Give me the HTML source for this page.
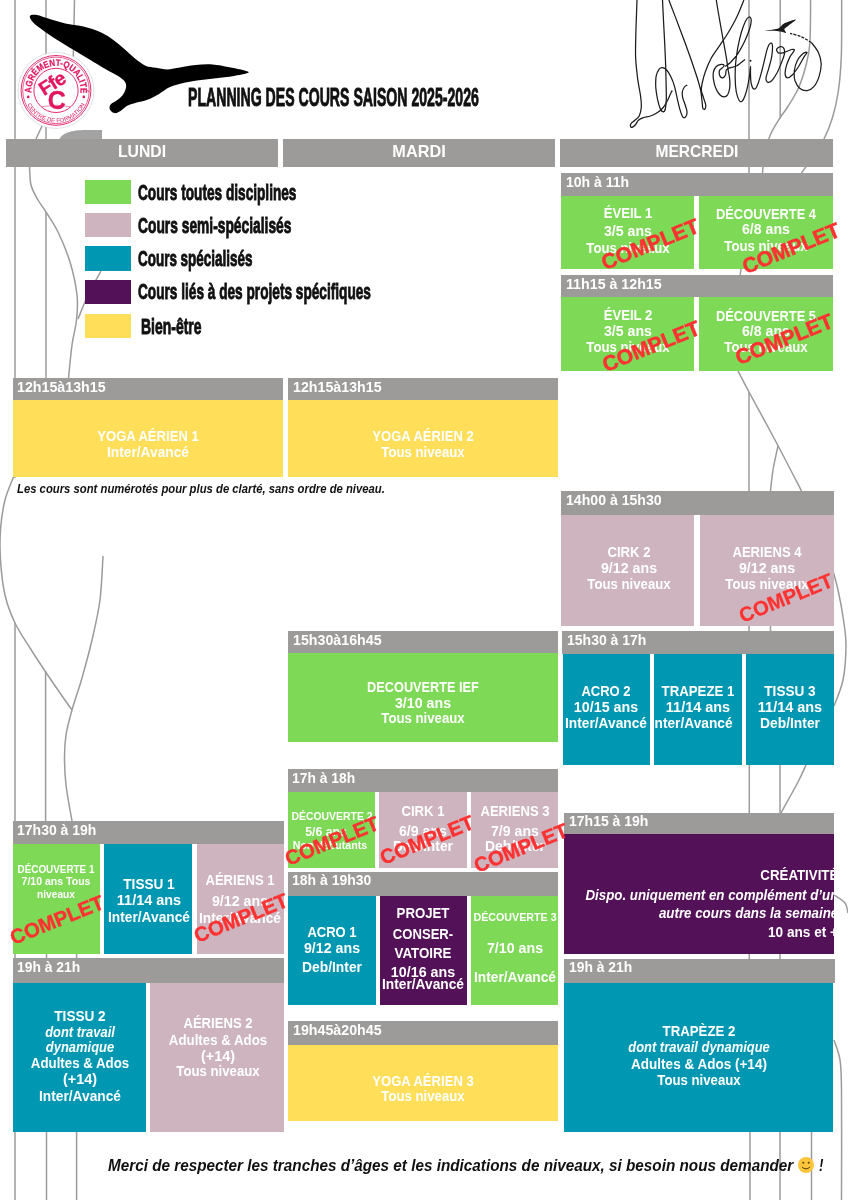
<!DOCTYPE html>
<html lang="fr"><head><meta charset="utf-8"><title>Planning des cours saison 2025-2026</title>
<style>
html,body{margin:0;padding:0;background:#fff;}
#p{position:relative;width:848px;height:1200px;overflow:hidden;background:#fff;}
.r{position:absolute;}
.t{position:absolute;white-space:nowrap;line-height:1;}
.c{position:absolute;white-space:nowrap;line-height:1;font-family:'Liberation Sans',sans-serif;font-weight:700;color:#ff3131;-webkit-text-stroke:0.5px #ff3131;}
svg{position:absolute;left:0;top:0;}
.clip{position:absolute;overflow:hidden;}
</style></head>
<body><div id="p">
<svg width="848" height="1200" viewBox="0 0 848 1200" fill="none"><title>La Volière</title>
<path d="M15.0 0.0L15.0 478.0" stroke="#9b9b9b" stroke-width="1.50" fill="none"/>
<path d="M15.0 1132.0L15.0 1200.0" stroke="#9b9b9b" stroke-width="1.50" fill="none"/>
<path d="M15.0 954.0L15.0 959.0" stroke="#9b9b9b" stroke-width="1.50" fill="none"/>
<path d="M46.0 0.0L46.0 165.0" stroke="#9b9b9b" stroke-width="1.50" fill="none"/>
<path d="M74.5 0.0L73.0 70.0" stroke="#9b9b9b" stroke-width="1.50" fill="none"/>
<path d="M29.5 166.0C29.8 169.2 29.6 179.3 31.0 185.0C32.4 190.7 35.5 195.5 38.0 200.0C40.5 204.5 42.7 206.7 46.0 212.0C49.3 217.3 54.0 223.7 58.0 232.0C62.0 240.3 66.8 251.5 70.0 262.0C73.2 272.5 75.9 285.3 77.0 295.0C78.1 304.7 77.3 311.7 76.5 320.0C75.7 328.3 73.3 335.3 72.0 345.0C70.7 354.7 69.1 372.5 68.5 378.0" stroke="#9b9b9b" stroke-width="1.50" fill="none"/>
<path d="M46.0 212.0L46.0 378.0" stroke="#9b9b9b" stroke-width="1.50" fill="none"/>
<path d="M101.0 271.0C98.8 275.0 91.8 287.0 88.0 295.0C84.2 303.0 79.7 315.0 78.0 319.0" stroke="#9b9b9b" stroke-width="1.50" fill="none"/>
<path d="M42.0 126.0L36.0 139.0" stroke="#9b9b9b" stroke-width="1.50" fill="none"/>
<path d="M13.5 477.0C12.1 480.8 7.2 491.2 5.0 500.0C2.8 508.8 1.2 520.0 0.5 530.0C-0.2 540.0 -0.2 549.2 0.5 560.0C1.2 570.8 2.6 584.5 5.0 595.0C7.4 605.5 10.8 614.2 15.0 623.0C19.2 631.8 25.0 640.0 30.0 648.0C35.0 656.0 40.0 663.5 45.0 671.0C50.0 678.5 55.5 686.5 60.0 693.0C64.5 699.5 70.0 707.2 72.0 710.0" stroke="#9b9b9b" stroke-width="1.50" fill="none"/>
<path d="M15.0 623.0L15.0 821.0" stroke="#9b9b9b" stroke-width="1.50" fill="none"/>
<path d="M45.6 671.0L45.6 821.0" stroke="#9b9b9b" stroke-width="1.50" fill="none"/>
<path d="M103.0 556.0C102.5 563.3 101.8 586.0 100.0 600.0C98.2 614.0 95.0 627.0 92.0 640.0C89.0 653.0 85.3 666.3 82.0 678.0C78.7 689.7 74.7 700.5 72.0 710.0C69.3 719.5 67.2 727.2 66.0 735.0C64.8 742.8 64.5 748.7 64.5 757.0C64.5 765.3 64.8 774.3 66.0 785.0C67.2 795.7 71.0 815.0 72.0 821.0" stroke="#9b9b9b" stroke-width="1.50" fill="none"/>
<path d="M46.5 1132.0L46.5 1200.0" stroke="#9b9b9b" stroke-width="1.50" fill="none"/>
<path d="M76.6 1132.0L76.6 1200.0" stroke="#9b9b9b" stroke-width="1.50" fill="none"/>
<path d="M46.5 954.0L46.5 959.0" stroke="#9b9b9b" stroke-width="1.50" fill="none"/>
<path d="M76.6 954.0L76.6 959.0" stroke="#9b9b9b" stroke-width="1.50" fill="none"/>
<path d="M749.0 0.0L749.0 173.0" stroke="#9b9b9b" stroke-width="1.50" fill="none"/>
<path d="M780.2 0.0L780.2 117.5" stroke="#9b9b9b" stroke-width="1.50" fill="none"/>
<path d="M810.6 0.0C810.5 7.1 810.6 31.9 809.9 42.5C809.2 53.1 808.3 56.2 806.4 63.7C804.5 71.2 801.8 80.4 798.6 87.7C795.4 95.0 790.4 102.5 787.3 107.5C784.2 112.5 783.0 112.9 780.2 117.5C777.4 122.1 772.9 128.8 770.3 135.0C767.7 141.2 765.8 148.7 764.5 155.0C763.2 161.3 762.8 170.0 762.5 173.0" stroke="#9b9b9b" stroke-width="1.50" fill="none"/>
<path d="M841.7 0.0C841.6 9.4 841.9 41.3 841.3 56.6C840.7 71.9 839.7 81.8 838.2 92.0C836.7 102.2 834.9 109.7 832.5 117.5C830.1 125.3 827.4 132.2 824.0 139.0C820.6 145.8 815.8 152.3 812.0 158.0C808.2 163.7 803.2 170.5 801.5 173.0" stroke="#9b9b9b" stroke-width="1.50" fill="none"/>
<path d="M741.0 269.0L740.0 276.0" stroke="#9b9b9b" stroke-width="1.50" fill="none"/>
<path d="M738.0 371.0C739.8 374.5 742.8 380.5 749.0 392.0C755.2 403.5 766.2 423.5 775.0 440.0C783.8 456.5 797.1 482.5 801.5 491.0" stroke="#9b9b9b" stroke-width="1.50" fill="none"/>
<path d="M749.0 392.0L749.0 491.0" stroke="#9b9b9b" stroke-width="1.50" fill="none"/>
<path d="M778.0 446.0C777.2 450.0 774.2 462.5 773.0 470.0C771.8 477.5 770.9 487.5 770.5 491.0" stroke="#9b9b9b" stroke-width="1.50" fill="none"/>
<path d="M749.0 626.0L749.0 632.0" stroke="#9b9b9b" stroke-width="1.50" fill="none"/>
<path d="M770.5 626.0L770.5 632.0" stroke="#9b9b9b" stroke-width="1.50" fill="none"/>
<path d="M830.5 562.0C831.8 566.7 835.8 580.3 838.0 590.0C840.2 599.7 842.2 610.7 843.5 620.0C844.8 629.3 846.1 636.0 846.0 646.0C845.9 656.0 845.0 670.0 843.0 680.0C841.0 690.0 835.5 701.7 834.0 706.0" stroke="#9b9b9b" stroke-width="1.50" fill="none"/>
<path d="M749.3 765.0L749.3 813.0" stroke="#9b9b9b" stroke-width="1.50" fill="none"/>
<path d="M780.0 765.0L780.0 813.0" stroke="#9b9b9b" stroke-width="1.50" fill="none"/>
<path d="M806.0 765.0C804.7 767.8 802.2 774.0 798.0 782.0C793.8 790.0 783.8 807.8 781.0 813.0" stroke="#9b9b9b" stroke-width="1.50" fill="none"/>
<path d="M749.3 954.0L749.3 959.0" stroke="#9b9b9b" stroke-width="1.50" fill="none"/>
<path d="M780.0 954.0L780.0 959.0" stroke="#9b9b9b" stroke-width="1.50" fill="none"/>
<path d="M834.0 895.0C835.8 896.3 842.7 900.0 845.0 903.0C847.3 906.0 847.5 911.3 848.0 913.0" stroke="#9b9b9b" stroke-width="1.50" fill="none"/>
<path d="M834.0 1040.0C835.0 1043.3 838.8 1051.7 840.0 1060.0C841.2 1068.3 841.2 1066.7 841.5 1090.0C841.8 1113.3 841.5 1181.7 841.5 1200.0" stroke="#9b9b9b" stroke-width="1.50" fill="none"/>
<path d="M750.0 1132.0L750.0 1200.0" stroke="#9b9b9b" stroke-width="1.50" fill="none"/>
<path d="M780.0 1132.0L780.0 1200.0" stroke="#9b9b9b" stroke-width="1.50" fill="none"/>
<path d="M811.5 1132.0L811.5 1200.0" stroke="#9b9b9b" stroke-width="1.50" fill="none"/>
<path d="M59 141 C60 133 72 130 86 130 L102 130 L102 141 Z" fill="#a3a3a3" stroke="none"/>
<path d="M637.0 0.0C636.9 4.7 636.3 18.9 636.0 28.3C635.8 37.7 635.3 48.1 635.6 56.6C635.9 65.1 636.9 72.6 637.7 79.2C638.6 85.8 640.0 91.5 640.6 96.2C641.2 100.9 641.5 104.2 641.3 107.5C641.0 110.8 640.2 113.9 639.2 116.0C638.1 118.2 636.2 119.1 634.9 120.3C633.6 121.5 632.1 122.2 631.4 123.1C630.6 124.1 630.3 125.2 630.4 125.9C630.5 126.6 631.2 127.6 632.1 127.4C632.9 127.1 634.6 125.7 635.6 124.5C636.7 123.3 637.1 121.4 638.4 120.3C639.7 119.1 641.4 118.4 643.4 117.7C645.4 117.0 648.1 116.9 650.5 116.0C652.8 115.2 655.4 113.9 657.5 112.5C659.7 111.1 661.6 109.5 663.2 107.5C664.9 105.5 666.2 102.9 667.5 100.5C668.7 98.0 670.2 94.3 671.0 92.7C671.8 91.0 672.2 90.9 672.4 90.6" stroke="#1c1c1c" stroke-width="1.25" fill="none"/>
<path d="M662.5 0.0C662.7 4.7 663.4 18.9 663.9 28.3C664.4 37.7 665.0 48.1 665.3 56.6C665.7 65.1 665.9 72.2 666.0 79.2C666.2 86.3 666.4 94.1 666.3 99.1C666.2 104.0 665.8 106.8 665.3 109.0C664.8 111.1 664.0 111.8 663.2 111.8C662.4 111.8 661.3 111.1 660.4 109.0C659.4 106.8 658.3 102.6 657.5 99.1C656.8 95.5 656.1 91.5 655.8 87.7C655.6 84.0 655.6 79.5 656.1 76.4C656.6 73.3 657.9 70.8 659.0 69.3C660.0 67.9 661.2 67.5 662.5 67.6C663.8 67.8 665.3 68.5 666.7 70.0C668.2 71.6 669.7 74.4 671.0 77.1C672.3 79.8 673.5 82.7 674.5 86.3C675.6 90.0 676.4 95.0 677.4 99.1C678.3 103.1 679.2 107.4 680.2 110.4C681.1 113.4 682.1 116.1 683.0 117.2C684.0 118.2 685.2 117.6 685.8 116.7C686.5 115.8 687.1 113.8 687.0 111.8C686.9 109.8 685.8 107.1 685.1 104.7C684.4 102.4 683.2 99.8 682.7 97.6C682.3 95.5 682.0 93.7 682.3 92.0C682.6 90.2 683.6 88.2 684.4 87.0C685.3 85.8 686.8 85.3 687.3 84.9" stroke="#1c1c1c" stroke-width="1.25" fill="none"/>
<path d="M668.9 0.0C670.0 3.1 673.3 11.6 675.9 18.4C678.5 25.2 681.8 34.0 684.4 41.0C687.0 48.1 689.4 54.7 691.5 60.8C693.6 67.0 695.6 72.9 697.2 77.8C698.7 82.8 699.9 86.6 700.7 90.6C701.5 94.6 701.8 98.9 702.1 101.9C702.5 104.8 702.4 107.1 702.8 108.2C703.3 109.4 704.5 109.5 704.9 109.0C705.4 108.4 705.9 106.6 705.7 104.7C705.4 102.8 704.2 100.0 703.5 97.6C702.8 95.3 701.6 92.9 701.4 90.6C701.2 88.2 701.4 86.8 702.1 83.5C702.8 80.2 704.1 75.0 705.7 70.8C707.2 66.5 709.0 62.3 711.3 58.0C713.7 53.8 717.0 49.5 719.8 45.3C722.6 41.0 725.5 37.3 728.3 32.5C731.1 27.8 734.2 22.4 736.8 17.0C739.4 11.6 742.7 2.8 743.9 0.0" stroke="#1c1c1c" stroke-width="1.25" fill="none"/>
<path d="M716.3 0.0C716.7 2.8 718.0 10.8 719.1 17.0C720.2 23.1 721.5 30.2 722.6 36.8C723.8 43.4 725.2 50.9 726.2 56.6C727.1 62.3 727.7 67.0 728.3 70.8C728.9 74.5 729.5 76.4 729.7 79.2C729.9 82.1 730.1 85.1 729.7 87.7C729.4 90.3 728.5 93.3 727.6 94.8C726.6 96.3 725.3 96.9 724.1 96.9C722.8 96.9 721.2 96.3 719.8 94.8C718.4 93.3 716.6 90.3 715.6 87.7C714.5 85.1 713.8 81.8 713.4 79.2C713.1 76.6 713.0 74.3 713.4 72.2C713.9 70.0 715.0 67.8 716.3 66.5C717.6 65.2 719.9 64.6 721.2 64.4C722.5 64.2 723.8 64.8 724.1 65.4C724.3 65.9 723.4 66.8 722.6 67.6C721.9 68.5 720.0 69.1 719.5 70.5C719.1 71.8 719.3 74.5 719.8 75.7C720.3 76.9 721.7 77.9 722.6 77.8C723.6 77.7 724.9 76.3 725.5 75.0C726.1 73.7 725.6 71.2 726.3 70.0C727.0 68.9 728.0 68.6 729.7 67.9C731.5 67.2 734.2 67.2 736.8 65.8C739.3 64.4 743.6 60.5 745.0 59.4" stroke="#1c1c1c" stroke-width="1.25" fill="none"/>
<path d="M725.0 66.5C725.9 65.8 728.5 64.4 730.7 62.3C732.8 60.1 735.4 57.3 737.7 53.8C740.1 50.2 742.8 45.3 744.8 41.0C746.8 36.8 748.7 31.8 749.8 28.3C750.8 24.8 751.3 21.7 751.2 19.8C751.1 17.9 750.0 16.7 749.1 17.0C748.1 17.2 746.8 18.6 745.5 21.2C744.2 23.8 742.6 28.1 741.3 32.5C740.0 37.0 738.7 42.9 737.7 48.1C736.8 53.3 736.0 58.5 735.6 63.7C735.2 68.9 735.1 74.5 735.2 79.2C735.3 84.0 735.7 88.4 736.3 92.0C737.0 95.5 738.2 98.9 739.2 100.5C740.1 102.0 741.0 101.9 742.0 101.2C742.9 100.5 743.9 98.7 744.8 96.2C745.8 93.7 746.8 90.1 747.6 86.3C748.5 82.5 749.3 76.9 749.8 73.6C750.2 70.3 750.4 66.5 750.5 66.5C750.6 66.5 750.4 70.8 750.5 73.6C750.6 76.4 750.6 80.9 751.2 83.5C751.8 86.1 752.9 88.9 754.0 89.1C755.1 89.4 756.4 87.5 757.5 84.9C758.7 82.3 759.9 77.8 761.1 73.6C762.3 69.3 763.6 63.7 764.6 59.4C765.7 55.2 766.5 50.8 767.5 48.1C768.4 45.4 769.5 43.6 770.3 43.2C771.1 42.7 772.2 43.0 772.4 45.3C772.6 47.5 772.3 52.8 771.7 56.6C771.1 60.4 769.8 64.4 768.9 67.9C767.9 71.5 766.3 75.5 766.0 77.8C765.8 80.2 766.5 81.6 767.5 82.1C768.4 82.5 770.0 82.3 771.7 80.7C773.3 79.0 775.7 75.2 777.4 72.2C779.0 69.1 780.4 65.3 781.6 62.3C782.8 59.2 784.1 56.1 784.4 53.8C784.8 51.4 784.4 49.3 783.7 48.1C783.0 46.9 781.4 46.5 780.2 46.7C779.0 46.9 776.9 48.5 776.6 49.5C776.4 50.6 777.5 52.6 778.8 53.1C780.1 53.5 782.3 52.9 784.4 52.4C786.6 51.8 789.9 49.9 791.5 49.5C793.2 49.2 794.6 49.1 794.3 50.2C794.1 51.4 791.4 54.1 790.1 56.6C788.8 59.1 787.4 62.3 786.6 65.1C785.7 67.9 785.0 71.5 785.1 73.6C785.3 75.7 786.1 77.6 787.3 77.8C788.4 78.1 790.3 76.9 792.2 75.0C794.1 73.1 796.6 69.6 798.6 66.5C800.6 63.4 802.8 59.0 804.2 56.6C805.7 54.2 807.3 52.8 807.1 52.4C806.8 51.9 804.5 52.4 802.8 53.8C801.2 55.2 798.6 58.0 797.2 60.8C795.8 63.7 794.7 67.4 794.3 70.8C794.0 74.1 794.1 77.7 795.0 80.7C796.0 83.6 798.0 86.8 800.0 88.4C802.0 90.1 804.7 90.9 807.1 90.6C809.4 90.2 812.1 88.7 814.1 86.3C816.2 84.0 817.9 80.2 819.1 76.4C820.3 72.6 821.3 67.7 821.2 63.7C821.1 59.7 820.0 55.9 818.4 52.4C816.7 48.8 812.5 44.1 811.3 42.5" stroke="#1c1c1c" stroke-width="1.25" fill="none"/>
<path d="M811.3 42.5C809.7 41.5 804.9 38.3 801.4 36.8C797.9 35.3 792.0 33.8 790.1 33.3" stroke="#1c1c1c" stroke-width="1.25" fill="none" stroke-dasharray="3 1.2"/>
<circle cx="750.5" cy="60.8" r="1.0" fill="#1c1c1c" stroke="none"/>
<path d="M764.6 30.8C764.4 30.6 770.8 29.9 773.1 29.4C775.5 29.0 776.9 29.3 778.8 28.3C780.7 27.3 781.6 24.8 784.4 23.3C787.3 21.9 795.0 19.2 795.8 19.5C796.5 19.9 790.6 23.9 788.7 25.5C786.8 27.1 784.9 27.8 784.4 29.0C784.0 30.2 786.6 32.4 786.1 32.8C785.7 33.3 783.5 32.2 781.6 31.8C779.7 31.5 777.4 31.0 774.5 30.8C771.7 30.7 764.9 31.1 764.6 30.8Z" fill="#1c1c1c" stroke="none"/>
<path d="M29.9 15.8C30.6 14.6 33.9 14.4 37.0 14.9C40.1 15.4 43.6 17.2 48.3 18.6C53.0 20.0 59.6 22.1 65.3 23.4C71.0 24.7 77.1 25.0 82.3 26.2C87.5 27.4 92.2 28.9 96.4 30.5C100.6 32.1 103.9 33.8 107.7 36.1C111.5 38.5 115.3 41.5 119.1 44.6C122.9 47.7 127.1 51.7 130.4 54.5C133.7 57.3 136.3 59.7 138.9 61.6C141.5 63.5 143.2 64.9 146.0 65.9C148.8 66.9 152.4 67.2 155.9 67.8C159.4 68.4 163.4 69.5 167.2 69.5C171.0 69.5 173.8 68.5 178.5 67.8C183.2 67.0 189.8 65.6 195.5 65.0C201.2 64.4 206.8 64.0 212.5 64.4C218.2 64.8 223.5 66.0 229.5 67.3C235.5 68.6 247.8 70.7 248.7 72.1C249.6 73.5 240.2 74.8 235.1 75.8C230.0 76.8 223.8 77.3 218.1 78.0C212.4 78.7 206.8 79.2 201.1 80.0C195.4 80.8 189.4 81.6 184.2 82.8C179.0 84.0 174.2 85.2 170.0 87.1C165.8 89.0 162.5 92.1 158.7 94.2C154.9 96.3 151.2 98.4 147.4 99.8C143.6 101.2 139.3 101.8 136.0 102.7C132.7 103.7 130.2 104.1 127.6 105.5C125.0 106.9 122.6 109.8 120.5 111.1C118.4 112.4 116.5 113.3 114.8 113.1C113.0 112.9 110.7 111.1 110.0 109.7C109.3 108.3 109.3 106.2 110.6 104.6C111.9 102.9 115.6 101.5 117.7 99.8C119.8 98.1 121.9 96.3 123.3 94.2C124.7 92.1 125.9 89.2 126.1 87.1C126.3 85.0 126.1 83.3 124.7 81.4C123.3 79.5 121.0 77.9 117.7 75.8C114.4 73.7 109.4 71.3 104.9 68.7C100.4 66.1 95.5 63.0 90.8 60.2C86.1 57.4 81.3 54.5 76.6 51.7C71.9 48.9 66.8 45.8 62.5 43.2C58.2 40.6 54.6 38.5 51.1 36.1C47.6 33.8 44.3 31.5 41.2 29.1C38.1 26.8 34.6 24.2 32.7 22.0C30.8 19.8 29.2 17.0 29.9 15.8Z" fill="#000" stroke="none"/>
<g>
<circle cx="56" cy="90.4" r="38" fill="#fff" stroke="#d6d6d6" stroke-width="0.7"/>
<circle cx="56" cy="90.4" r="34.9" fill="none" stroke="#e2155f" stroke-width="0.9"/>
<circle cx="56" cy="90.4" r="33.3" fill="none" stroke="#e2155f" stroke-width="0.7"/>
<circle cx="56" cy="90.4" r="22.1" fill="none" stroke="#e2155f" stroke-width="0.9"/>
<path id="arcT" d="M31.53 92.97 A24.6 24.6 0 1 1 80.47 92.97" fill="none" stroke="none"/>
<path id="arcB" d="M27.24 104.43 A32.0 32.0 0 0 0 84.76 104.43" fill="none" stroke="none"/>
<text font-family="'Liberation Sans',sans-serif" font-weight="700" font-size="9.3" fill="#e2155f" stroke="#e2155f" stroke-width="0.25"><textPath href="#arcT" startOffset="0" textLength="82.4" lengthAdjust="spacingAndGlyphs">AGRÉMENT-QUALITÉ</textPath></text>
<text font-family="'Liberation Sans',sans-serif" font-weight="400" font-size="5.7" fill="#e2155f" stroke="none"><textPath href="#arcB" startOffset="0" textLength="71.5" lengthAdjust="spacingAndGlyphs">CENTRE DE FORMATION</textPath></text>
<circle cx="28.2" cy="96.9" r="1.3" fill="#e2155f" stroke="none"/><circle cx="83.8" cy="96.9" r="1.3" fill="#e2155f" stroke="none"/>
<g font-family="'Liberation Sans',sans-serif" font-weight="700" fill="#e2155f" stroke="#e2155f" stroke-width="0.3">
<text transform="translate(53.6 83.8) rotate(-32)" x="-1" y="5.5" font-size="19.5" text-anchor="middle" letter-spacing="-0.6">Ffe</text>
<text x="56.8" y="109" font-size="25" text-anchor="middle">C</text>
</g>
<path d="M41.5 106.7 Q56 103.7 70.5 106.7" fill="none" stroke="#e2155f" stroke-width="0.5"/>
</g>
</svg>
<div class="t" style="left:188.00px;top:84.92px;font-size:24.90px;font-family:'Liberation Sans',sans-serif;font-weight:700;color:#111;transform:scaleX(0.5668);transform-origin:left center;-webkit-text-stroke:0.90px #111;">PLANNING DES COURS SAISON 2025-2026</div>
<div class="r" style="left:5.50px;top:139.00px;width:272.00px;height:27.80px;background:#9d9b9a;"></div>
<div class="t" style="left:141.50px;top:143.21px;font-size:17.00px;font-family:'Liberation Sans',sans-serif;font-weight:700;color:#fff;transform:translateX(-50%) scaleX(0.9286);transform-origin:center center;">LUNDI</div>
<div class="r" style="left:283.00px;top:139.00px;width:272.00px;height:27.80px;background:#9d9b9a;"></div>
<div class="t" style="left:419.00px;top:143.21px;font-size:17.00px;font-family:'Liberation Sans',sans-serif;font-weight:700;color:#fff;transform:translateX(-50%) scaleX(0.9577);transform-origin:center center;">MARDI</div>
<div class="r" style="left:560.30px;top:139.00px;width:272.70px;height:27.80px;background:#9d9b9a;"></div>
<div class="t" style="left:696.65px;top:143.21px;font-size:17.00px;font-family:'Liberation Sans',sans-serif;font-weight:700;color:#fff;transform:translateX(-50%) scaleX(0.9139);transform-origin:center center;">MERCREDI</div>
<div class="r" style="left:85.00px;top:179.50px;width:46.40px;height:24.70px;background:#7ed957;"></div>
<div class="t" style="left:138.00px;top:182.43px;font-size:22.40px;font-family:'Liberation Sans',sans-serif;font-weight:700;color:#111;transform:scaleX(0.6093);transform-origin:left center;-webkit-text-stroke:0.90px #111;">Cours toutes disciplines</div>
<div class="r" style="left:85.00px;top:212.50px;width:46.40px;height:24.70px;background:#cdb4be;"></div>
<div class="t" style="left:138.00px;top:215.43px;font-size:22.40px;font-family:'Liberation Sans',sans-serif;font-weight:700;color:#111;transform:scaleX(0.6164);transform-origin:left center;-webkit-text-stroke:0.90px #111;">Cours semi-spécialisés</div>
<div class="r" style="left:85.00px;top:246.30px;width:46.40px;height:24.70px;background:#0097b2;"></div>
<div class="t" style="left:138.00px;top:248.43px;font-size:22.40px;font-family:'Liberation Sans',sans-serif;font-weight:700;color:#111;transform:scaleX(0.6011);transform-origin:left center;-webkit-text-stroke:0.90px #111;">Cours spécialisés</div>
<div class="r" style="left:85.00px;top:279.80px;width:46.40px;height:24.70px;background:#531158;"></div>
<div class="t" style="left:138.00px;top:281.43px;font-size:22.40px;font-family:'Liberation Sans',sans-serif;font-weight:700;color:#111;transform:scaleX(0.6097);transform-origin:left center;-webkit-text-stroke:0.90px #111;">Cours liés à des projets spécifiques</div>
<div class="r" style="left:85.00px;top:313.50px;width:46.40px;height:24.70px;background:#ffde59;"></div>
<div class="t" style="left:141.00px;top:315.63px;font-size:22.40px;font-family:'Liberation Sans',sans-serif;font-weight:700;color:#111;transform:scaleX(0.6231);transform-origin:left center;-webkit-text-stroke:0.90px #111;">Bien-être</div>
<div class="r" style="left:12.70px;top:378.00px;width:270.10px;height:22.00px;background:#9d9b9a;"></div>
<div class="t" style="left:17.30px;top:379.68px;font-size:14.20px;font-family:'Liberation Sans',sans-serif;font-weight:700;color:#fff;transform:scaleX(1.0031);transform-origin:left center;">12h15à13h15</div>
<div class="r" style="left:12.70px;top:400.00px;width:270.10px;height:77.00px;background:#ffde59;"></div>
<div class="t" style="left:147.75px;top:429.08px;font-size:14.20px;font-family:'Liberation Sans',sans-serif;font-weight:700;color:#fff;transform:translateX(-50%) scaleX(0.9221);transform-origin:center center;">YOGA AÉRIEN 1</div>
<div class="t" style="left:147.75px;top:445.18px;font-size:14.20px;font-family:'Liberation Sans',sans-serif;font-weight:700;color:#fff;transform:translateX(-50%) scaleX(0.9682);transform-origin:center center;">Inter/Avancé</div>
<div class="t" style="left:16.80px;top:482.76px;font-size:12.45px;font-family:'Liberation Sans',sans-serif;font-weight:700;font-style:italic;color:#111;transform:scaleX(0.9083);transform-origin:left center;">Les cours sont numérotés pour plus de clarté, sans ordre de niveau.</div>
<div class="r" style="left:12.70px;top:821.00px;width:271.50px;height:22.60px;background:#9d9b9a;"></div>
<div class="t" style="left:17.30px;top:822.68px;font-size:14.20px;font-family:'Liberation Sans',sans-serif;font-weight:700;color:#fff;transform:scaleX(0.9870);transform-origin:left center;">17h30 à 19h</div>
<div class="r" style="left:13.30px;top:843.60px;width:87.20px;height:110.60px;background:#7ed957;"></div>
<div class="t" style="left:55.50px;top:864.07px;font-size:10.90px;font-family:'Liberation Sans',sans-serif;font-weight:700;color:#fff;transform:translateX(-50%) scaleX(0.9063);transform-origin:center center;">DÉCOUVERTE 1</div>
<div class="t" style="left:55.50px;top:876.47px;font-size:10.90px;font-family:'Liberation Sans',sans-serif;font-weight:700;color:#fff;transform:translateX(-50%) scaleX(0.9683);transform-origin:center center;">7/10 ans Tous</div>
<div class="t" style="left:55.50px;top:888.67px;font-size:10.90px;font-family:'Liberation Sans',sans-serif;font-weight:700;color:#fff;transform:translateX(-50%) scaleX(0.9320);transform-origin:center center;">niveaux</div>
<div class="r" style="left:104.40px;top:843.60px;width:87.40px;height:110.60px;background:#0097b2;"></div>
<div class="t" style="left:149.00px;top:877.08px;font-size:14.20px;font-family:'Liberation Sans',sans-serif;font-weight:700;color:#fff;transform:translateX(-50%) scaleX(0.9583);transform-origin:center center;">TISSU 1</div>
<div class="t" style="left:149.00px;top:892.78px;font-size:14.20px;font-family:'Liberation Sans',sans-serif;font-weight:700;color:#fff;transform:translateX(-50%) scaleX(1.0181);transform-origin:center center;">11/14 ans</div>
<div class="t" style="left:149.00px;top:909.58px;font-size:14.20px;font-family:'Liberation Sans',sans-serif;font-weight:700;color:#fff;transform:translateX(-50%) scaleX(0.9682);transform-origin:center center;">Inter/Avancé</div>
<div class="r" style="left:196.60px;top:843.60px;width:87.20px;height:110.60px;background:#cdb4be;"></div>
<div class="t" style="left:240.20px;top:872.88px;font-size:14.20px;font-family:'Liberation Sans',sans-serif;font-weight:700;color:#fff;transform:translateX(-50%) scaleX(0.9230);transform-origin:center center;">AÉRIENS 1</div>
<div class="t" style="left:240.20px;top:893.68px;font-size:14.20px;font-family:'Liberation Sans',sans-serif;font-weight:700;color:#fff;transform:translateX(-50%) scaleX(1.0020);transform-origin:center center;">9/12 ans</div>
<div class="t" style="left:240.20px;top:911.38px;font-size:14.20px;font-family:'Liberation Sans',sans-serif;font-weight:700;color:#fff;transform:translateX(-50%) scaleX(0.9682);transform-origin:center center;">Inter/Avancé</div>
<div class="r" style="left:12.70px;top:958.20px;width:271.50px;height:24.80px;background:#9d9b9a;"></div>
<div class="t" style="left:17.30px;top:959.88px;font-size:14.20px;font-family:'Liberation Sans',sans-serif;font-weight:700;color:#fff;transform:scaleX(0.9761);transform-origin:left center;">19h à 21h</div>
<div class="r" style="left:12.70px;top:983.00px;width:133.50px;height:149.10px;background:#0097b2;"></div>
<div class="t" style="left:80.30px;top:1008.68px;font-size:14.20px;font-family:'Liberation Sans',sans-serif;font-weight:700;color:#fff;transform:translateX(-50%) scaleX(0.9583);transform-origin:center center;">TISSU 2</div>
<div class="t" style="left:80.30px;top:1024.58px;font-size:14.20px;font-family:'Liberation Sans',sans-serif;font-weight:700;font-style:italic;color:#fff;transform:translateX(-50%) scaleX(0.9112);transform-origin:center center;">dont travail</div>
<div class="t" style="left:80.30px;top:1040.48px;font-size:14.20px;font-family:'Liberation Sans',sans-serif;font-weight:700;font-style:italic;color:#fff;transform:translateX(-50%) scaleX(0.9113);transform-origin:center center;">dynamique</div>
<div class="t" style="left:80.30px;top:1056.48px;font-size:14.20px;font-family:'Liberation Sans',sans-serif;font-weight:700;color:#fff;transform:translateX(-50%) scaleX(0.9351);transform-origin:center center;">Adultes &amp; Ados</div>
<div class="t" style="left:80.30px;top:1072.38px;font-size:14.20px;font-family:'Liberation Sans',sans-serif;font-weight:700;color:#fff;transform:translateX(-50%) scaleX(1.0147);transform-origin:center center;">(+14)</div>
<div class="t" style="left:80.30px;top:1088.58px;font-size:14.20px;font-family:'Liberation Sans',sans-serif;font-weight:700;color:#fff;transform:translateX(-50%) scaleX(0.9682);transform-origin:center center;">Inter/Avancé</div>
<div class="r" style="left:150.10px;top:983.00px;width:133.90px;height:149.10px;background:#cdb4be;"></div>
<div class="t" style="left:217.50px;top:1016.48px;font-size:14.20px;font-family:'Liberation Sans',sans-serif;font-weight:700;color:#fff;transform:translateX(-50%) scaleX(0.9230);transform-origin:center center;">AÉRIENS 2</div>
<div class="t" style="left:217.50px;top:1032.98px;font-size:14.20px;font-family:'Liberation Sans',sans-serif;font-weight:700;color:#fff;transform:translateX(-50%) scaleX(0.9351);transform-origin:center center;">Adultes &amp; Ados</div>
<div class="t" style="left:217.50px;top:1048.98px;font-size:14.20px;font-family:'Liberation Sans',sans-serif;font-weight:700;color:#fff;transform:translateX(-50%) scaleX(1.0147);transform-origin:center center;">(+14)</div>
<div class="t" style="left:217.50px;top:1064.48px;font-size:14.20px;font-family:'Liberation Sans',sans-serif;font-weight:700;color:#fff;transform:translateX(-50%) scaleX(0.9304);transform-origin:center center;">Tous niveaux</div>
<div class="r" style="left:288.00px;top:378.00px;width:270.20px;height:22.00px;background:#9d9b9a;"></div>
<div class="t" style="left:292.60px;top:379.68px;font-size:14.20px;font-family:'Liberation Sans',sans-serif;font-weight:700;color:#fff;transform:scaleX(1.0031);transform-origin:left center;">12h15à13h15</div>
<div class="r" style="left:288.00px;top:400.00px;width:270.20px;height:77.00px;background:#ffde59;"></div>
<div class="t" style="left:423.10px;top:429.08px;font-size:14.20px;font-family:'Liberation Sans',sans-serif;font-weight:700;color:#fff;transform:translateX(-50%) scaleX(0.9221);transform-origin:center center;">YOGA AÉRIEN 2</div>
<div class="t" style="left:423.10px;top:445.18px;font-size:14.20px;font-family:'Liberation Sans',sans-serif;font-weight:700;color:#fff;transform:translateX(-50%) scaleX(0.9304);transform-origin:center center;">Tous niveaux</div>
<div class="r" style="left:288.00px;top:631.00px;width:270.20px;height:21.60px;background:#9d9b9a;"></div>
<div class="t" style="left:292.60px;top:632.68px;font-size:14.20px;font-family:'Liberation Sans',sans-serif;font-weight:700;color:#fff;transform:scaleX(1.0031);transform-origin:left center;">15h30à16h45</div>
<div class="r" style="left:288.00px;top:652.60px;width:270.20px;height:89.40px;background:#7ed957;"></div>
<div class="t" style="left:423.10px;top:679.58px;font-size:14.20px;font-family:'Liberation Sans',sans-serif;font-weight:700;color:#fff;transform:translateX(-50%) scaleX(0.8975);transform-origin:center center;">DECOUVERTE IEF</div>
<div class="t" style="left:423.10px;top:695.58px;font-size:14.20px;font-family:'Liberation Sans',sans-serif;font-weight:700;color:#fff;transform:translateX(-50%) scaleX(1.0020);transform-origin:center center;">3/10 ans</div>
<div class="t" style="left:423.10px;top:711.48px;font-size:14.20px;font-family:'Liberation Sans',sans-serif;font-weight:700;color:#fff;transform:translateX(-50%) scaleX(0.9304);transform-origin:center center;">Tous niveaux</div>
<div class="r" style="left:287.60px;top:769.00px;width:270.60px;height:22.60px;background:#9d9b9a;"></div>
<div class="t" style="left:292.20px;top:770.68px;font-size:14.20px;font-family:'Liberation Sans',sans-serif;font-weight:700;color:#fff;transform:scaleX(0.9761);transform-origin:left center;">17h à 18h</div>
<div class="r" style="left:288.00px;top:791.60px;width:87.30px;height:76.40px;background:#7ed957;"></div>
<div class="t" style="left:331.90px;top:810.86px;font-size:11.50px;font-family:'Liberation Sans',sans-serif;font-weight:700;color:#fff;transform:translateX(-50%) scaleX(0.9063);transform-origin:center center;">DÉCOUVERTE 2</div>
<div class="t" style="left:326.20px;top:825.79px;font-size:12.30px;font-family:'Liberation Sans',sans-serif;font-weight:700;color:#fff;transform:translateX(-50%) scaleX(0.9971);transform-origin:center center;">5/6 ans</div>
<div class="t" style="left:329.50px;top:839.63px;font-size:11.30px;font-family:'Liberation Sans',sans-serif;font-weight:700;color:#fff;transform:translateX(-50%) scaleX(0.9422);transform-origin:center center;">Non débutants</div>
<div class="r" style="left:379.30px;top:791.60px;width:87.70px;height:76.40px;background:#cdb4be;"></div>
<div class="t" style="left:423.15px;top:803.88px;font-size:14.20px;font-family:'Liberation Sans',sans-serif;font-weight:700;color:#fff;transform:translateX(-50%) scaleX(0.9282);transform-origin:center center;">CIRK 1</div>
<div class="t" style="left:423.15px;top:823.88px;font-size:14.20px;font-family:'Liberation Sans',sans-serif;font-weight:700;color:#fff;transform:translateX(-50%) scaleX(0.9971);transform-origin:center center;">6/9 ans</div>
<div class="t" style="left:423.15px;top:839.18px;font-size:14.20px;font-family:'Liberation Sans',sans-serif;font-weight:700;color:#fff;transform:translateX(-50%) scaleX(0.9745);transform-origin:center center;">Deb/Inter</div>
<div class="r" style="left:471.30px;top:791.60px;width:86.90px;height:76.40px;background:#cdb4be;"></div>
<div class="t" style="left:514.75px;top:803.88px;font-size:14.20px;font-family:'Liberation Sans',sans-serif;font-weight:700;color:#fff;transform:translateX(-50%) scaleX(0.9230);transform-origin:center center;">AERIENS 3</div>
<div class="t" style="left:514.75px;top:823.88px;font-size:14.20px;font-family:'Liberation Sans',sans-serif;font-weight:700;color:#fff;transform:translateX(-50%) scaleX(0.9971);transform-origin:center center;">7/9 ans</div>
<div class="t" style="left:514.75px;top:839.18px;font-size:14.20px;font-family:'Liberation Sans',sans-serif;font-weight:700;color:#fff;transform:translateX(-50%) scaleX(0.9745);transform-origin:center center;">Deb/Inter</div>
<div class="r" style="left:287.60px;top:871.80px;width:270.60px;height:23.90px;background:#9d9b9a;"></div>
<div class="t" style="left:292.20px;top:873.48px;font-size:14.20px;font-family:'Liberation Sans',sans-serif;font-weight:700;color:#fff;transform:scaleX(0.9870);transform-origin:left center;">18h à 19h30</div>
<div class="r" style="left:288.00px;top:895.70px;width:87.50px;height:109.30px;background:#0097b2;"></div>
<div class="t" style="left:331.75px;top:924.88px;font-size:14.20px;font-family:'Liberation Sans',sans-serif;font-weight:700;color:#fff;transform:translateX(-50%) scaleX(0.9182);transform-origin:center center;">ACRO 1</div>
<div class="t" style="left:331.75px;top:941.48px;font-size:14.20px;font-family:'Liberation Sans',sans-serif;font-weight:700;color:#fff;transform:translateX(-50%) scaleX(1.0020);transform-origin:center center;">9/12 ans</div>
<div class="t" style="left:331.75px;top:960.18px;font-size:14.20px;font-family:'Liberation Sans',sans-serif;font-weight:700;color:#fff;transform:translateX(-50%) scaleX(0.9745);transform-origin:center center;">Deb/Inter</div>
<div class="r" style="left:379.60px;top:895.70px;width:87.40px;height:109.30px;background:#531158;"></div>
<div class="t" style="left:423.30px;top:906.48px;font-size:14.20px;font-family:'Liberation Sans',sans-serif;font-weight:700;color:#fff;transform:translateX(-50%) scaleX(0.9307);transform-origin:center center;">PROJET</div>
<div class="t" style="left:423.30px;top:926.58px;font-size:14.20px;font-family:'Liberation Sans',sans-serif;font-weight:700;color:#fff;transform:translateX(-50%) scaleX(0.9228);transform-origin:center center;">CONSER-</div>
<div class="t" style="left:423.30px;top:945.98px;font-size:14.20px;font-family:'Liberation Sans',sans-serif;font-weight:700;color:#fff;transform:translateX(-50%) scaleX(0.9396);transform-origin:center center;">VATOIRE</div>
<div class="t" style="left:423.30px;top:965.48px;font-size:14.20px;font-family:'Liberation Sans',sans-serif;font-weight:700;color:#fff;transform:translateX(-50%) scaleX(1.0056);transform-origin:center center;">10/16 ans</div>
<div class="t" style="left:423.30px;top:976.88px;font-size:14.20px;font-family:'Liberation Sans',sans-serif;font-weight:700;color:#fff;transform:translateX(-50%) scaleX(0.9682);transform-origin:center center;">Inter/Avancé</div>
<div class="r" style="left:471.30px;top:895.70px;width:87.10px;height:109.30px;background:#7ed957;"></div>
<div class="t" style="left:514.85px;top:912.01px;font-size:11.80px;font-family:'Liberation Sans',sans-serif;font-weight:700;color:#fff;transform:translateX(-50%) scaleX(0.9063);transform-origin:center center;">DÉCOUVERTE 3</div>
<div class="t" style="left:514.85px;top:940.78px;font-size:14.20px;font-family:'Liberation Sans',sans-serif;font-weight:700;color:#fff;transform:translateX(-50%) scaleX(1.0020);transform-origin:center center;">7/10 ans</div>
<div class="t" style="left:514.85px;top:970.08px;font-size:14.20px;font-family:'Liberation Sans',sans-serif;font-weight:700;color:#fff;transform:translateX(-50%) scaleX(0.9682);transform-origin:center center;">Inter/Avancé</div>
<div class="r" style="left:288.00px;top:1021.00px;width:270.40px;height:24.30px;background:#9d9b9a;"></div>
<div class="t" style="left:292.60px;top:1022.68px;font-size:14.20px;font-family:'Liberation Sans',sans-serif;font-weight:700;color:#fff;transform:scaleX(1.0031);transform-origin:left center;">19h45à20h45</div>
<div class="r" style="left:288.00px;top:1045.30px;width:270.40px;height:76.10px;background:#ffde59;"></div>
<div class="t" style="left:423.20px;top:1074.48px;font-size:14.20px;font-family:'Liberation Sans',sans-serif;font-weight:700;color:#fff;transform:translateX(-50%) scaleX(0.9221);transform-origin:center center;">YOGA AÉRIEN 3</div>
<div class="t" style="left:423.20px;top:1089.48px;font-size:14.20px;font-family:'Liberation Sans',sans-serif;font-weight:700;color:#fff;transform:translateX(-50%) scaleX(0.9304);transform-origin:center center;">Tous niveaux</div>
<div class="r" style="left:561.30px;top:173.00px;width:271.70px;height:23.00px;background:#9d9b9a;"></div>
<div class="t" style="left:565.90px;top:174.68px;font-size:14.20px;font-family:'Liberation Sans',sans-serif;font-weight:700;color:#fff;transform:scaleX(0.9881);transform-origin:left center;">10h à 11h</div>
<div class="r" style="left:561.30px;top:196.00px;width:132.70px;height:73.30px;background:#7ed957;"></div>
<div class="t" style="left:627.65px;top:205.68px;font-size:14.20px;font-family:'Liberation Sans',sans-serif;font-weight:700;color:#fff;transform:translateX(-50%) scaleX(0.9270);transform-origin:center center;">ÉVEIL 1</div>
<div class="t" style="left:627.65px;top:224.28px;font-size:14.20px;font-family:'Liberation Sans',sans-serif;font-weight:700;color:#fff;transform:translateX(-50%) scaleX(0.9971);transform-origin:center center;">3/5 ans</div>
<div class="t" style="left:627.65px;top:240.58px;font-size:14.20px;font-family:'Liberation Sans',sans-serif;font-weight:700;color:#fff;transform:translateX(-50%) scaleX(0.9304);transform-origin:center center;">Tous niveaux</div>
<div class="r" style="left:699.00px;top:196.00px;width:134.00px;height:73.30px;background:#7ed957;"></div>
<div class="t" style="left:766.00px;top:206.98px;font-size:14.20px;font-family:'Liberation Sans',sans-serif;font-weight:700;color:#fff;transform:translateX(-50%) scaleX(0.9063);transform-origin:center center;">DÉCOUVERTE 4</div>
<div class="t" style="left:766.00px;top:222.28px;font-size:14.20px;font-family:'Liberation Sans',sans-serif;font-weight:700;color:#fff;transform:translateX(-50%) scaleX(0.9971);transform-origin:center center;">6/8 ans</div>
<div class="t" style="left:766.00px;top:238.98px;font-size:14.20px;font-family:'Liberation Sans',sans-serif;font-weight:700;color:#fff;transform:translateX(-50%) scaleX(0.9304);transform-origin:center center;">Tous niveaux</div>
<div class="r" style="left:561.30px;top:275.00px;width:271.70px;height:22.40px;background:#9d9b9a;"></div>
<div class="t" style="left:565.90px;top:276.68px;font-size:14.20px;font-family:'Liberation Sans',sans-serif;font-weight:700;color:#fff;transform:scaleX(1.0025);transform-origin:left center;">11h15 à 12h15</div>
<div class="r" style="left:561.30px;top:297.40px;width:132.70px;height:73.40px;background:#7ed957;"></div>
<div class="t" style="left:627.65px;top:307.78px;font-size:14.20px;font-family:'Liberation Sans',sans-serif;font-weight:700;color:#fff;transform:translateX(-50%) scaleX(0.9270);transform-origin:center center;">ÉVEIL 2</div>
<div class="t" style="left:627.65px;top:324.08px;font-size:14.20px;font-family:'Liberation Sans',sans-serif;font-weight:700;color:#fff;transform:translateX(-50%) scaleX(0.9971);transform-origin:center center;">3/5 ans</div>
<div class="t" style="left:627.65px;top:339.98px;font-size:14.20px;font-family:'Liberation Sans',sans-serif;font-weight:700;color:#fff;transform:translateX(-50%) scaleX(0.9304);transform-origin:center center;">Tous niveaux</div>
<div class="r" style="left:699.00px;top:297.40px;width:134.00px;height:73.40px;background:#7ed957;"></div>
<div class="t" style="left:766.00px;top:308.68px;font-size:14.20px;font-family:'Liberation Sans',sans-serif;font-weight:700;color:#fff;transform:translateX(-50%) scaleX(0.9063);transform-origin:center center;">DÉCOUVERTE 5</div>
<div class="t" style="left:766.00px;top:323.98px;font-size:14.20px;font-family:'Liberation Sans',sans-serif;font-weight:700;color:#fff;transform:translateX(-50%) scaleX(0.9971);transform-origin:center center;">6/8 ans</div>
<div class="t" style="left:766.00px;top:340.28px;font-size:14.20px;font-family:'Liberation Sans',sans-serif;font-weight:700;color:#fff;transform:translateX(-50%) scaleX(0.9304);transform-origin:center center;">Tous niveaux</div>
<div class="r" style="left:561.30px;top:491.00px;width:272.70px;height:23.80px;background:#9d9b9a;"></div>
<div class="t" style="left:565.90px;top:492.68px;font-size:14.20px;font-family:'Liberation Sans',sans-serif;font-weight:700;color:#fff;transform:scaleX(0.9943);transform-origin:left center;">14h00 à 15h30</div>
<div class="r" style="left:561.30px;top:514.80px;width:132.90px;height:111.20px;background:#cdb4be;"></div>
<div class="t" style="left:629.00px;top:544.98px;font-size:14.20px;font-family:'Liberation Sans',sans-serif;font-weight:700;color:#fff;transform:translateX(-50%) scaleX(0.9282);transform-origin:center center;">CIRK 2</div>
<div class="t" style="left:629.00px;top:560.88px;font-size:14.20px;font-family:'Liberation Sans',sans-serif;font-weight:700;color:#fff;transform:translateX(-50%) scaleX(1.0020);transform-origin:center center;">9/12 ans</div>
<div class="t" style="left:629.00px;top:576.78px;font-size:14.20px;font-family:'Liberation Sans',sans-serif;font-weight:700;color:#fff;transform:translateX(-50%) scaleX(0.9304);transform-origin:center center;">Tous niveaux</div>
<div class="r" style="left:699.50px;top:514.80px;width:134.50px;height:111.20px;background:#cdb4be;"></div>
<div class="t" style="left:766.75px;top:544.98px;font-size:14.20px;font-family:'Liberation Sans',sans-serif;font-weight:700;color:#fff;transform:translateX(-50%) scaleX(0.9230);transform-origin:center center;">AERIENS 4</div>
<div class="t" style="left:766.75px;top:560.88px;font-size:14.20px;font-family:'Liberation Sans',sans-serif;font-weight:700;color:#fff;transform:translateX(-50%) scaleX(1.0020);transform-origin:center center;">9/12 ans</div>
<div class="t" style="left:766.75px;top:576.78px;font-size:14.20px;font-family:'Liberation Sans',sans-serif;font-weight:700;color:#fff;transform:translateX(-50%) scaleX(0.9304);transform-origin:center center;">Tous niveaux</div>
<div class="r" style="left:562.40px;top:631.00px;width:271.60px;height:22.60px;background:#9d9b9a;"></div>
<div class="t" style="left:567.00px;top:632.68px;font-size:14.20px;font-family:'Liberation Sans',sans-serif;font-weight:700;color:#fff;transform:scaleX(0.9870);transform-origin:left center;">15h30 à 17h</div>
<div class="r" style="left:562.70px;top:653.60px;width:87.30px;height:111.40px;background:#0097b2;"></div>
<div class="t" style="left:606.35px;top:684.38px;font-size:14.20px;font-family:'Liberation Sans',sans-serif;font-weight:700;color:#fff;transform:translateX(-50%) scaleX(0.9182);transform-origin:center center;">ACRO 2</div>
<div class="t" style="left:606.35px;top:699.98px;font-size:14.20px;font-family:'Liberation Sans',sans-serif;font-weight:700;color:#fff;transform:translateX(-50%) scaleX(1.0056);transform-origin:center center;">10/15 ans</div>
<div class="t" style="left:606.35px;top:715.88px;font-size:14.20px;font-family:'Liberation Sans',sans-serif;font-weight:700;color:#fff;transform:translateX(-50%) scaleX(0.9682);transform-origin:center center;">Inter/Avancé</div>
<div class="r" style="left:654.00px;top:653.60px;width:87.70px;height:111.40px;background:#0097b2;"></div>
<div class="t" style="left:698.00px;top:684.38px;font-size:14.20px;font-family:'Liberation Sans',sans-serif;font-weight:700;color:#fff;transform:translateX(-50%) scaleX(0.9325);transform-origin:center center;">TRAPEZE 1</div>
<div class="t" style="left:698.00px;top:699.98px;font-size:14.20px;font-family:'Liberation Sans',sans-serif;font-weight:700;color:#fff;transform:translateX(-50%) scaleX(1.0181);transform-origin:center center;">11/14 ans</div>
<div class="clip" style="left:655.3px;top:715px;width:86px;height:20px;">
<div class="t" style="right:8.30px;top:0.88px;font-size:14.20px;font-family:'Liberation Sans',sans-serif;font-weight:700;color:#fff;transform:scaleX(0.9682);transform-origin:right center;">Inter/Avancé</div>
</div>
<div class="r" style="left:746.10px;top:653.60px;width:87.90px;height:111.40px;background:#0097b2;"></div>
<div class="t" style="left:790.05px;top:683.98px;font-size:14.20px;font-family:'Liberation Sans',sans-serif;font-weight:700;color:#fff;transform:translateX(-50%) scaleX(0.9583);transform-origin:center center;">TISSU 3</div>
<div class="t" style="left:790.05px;top:699.98px;font-size:14.20px;font-family:'Liberation Sans',sans-serif;font-weight:700;color:#fff;transform:translateX(-50%) scaleX(1.0181);transform-origin:center center;">11/14 ans</div>
<div class="t" style="left:790.05px;top:715.88px;font-size:14.20px;font-family:'Liberation Sans',sans-serif;font-weight:700;color:#fff;transform:translateX(-50%) scaleX(0.9745);transform-origin:center center;">Deb/Inter</div>
<div class="r" style="left:564.20px;top:812.50px;width:269.80px;height:21.50px;background:#9d9b9a;"></div>
<div class="t" style="left:568.80px;top:814.18px;font-size:14.20px;font-family:'Liberation Sans',sans-serif;font-weight:700;color:#fff;transform:scaleX(0.9870);transform-origin:left center;">17h15 à 19h</div>
<div class="r" style="left:564.20px;top:834.00px;width:269.80px;height:120.00px;background:#531158;"></div>
<div class="clip" style="left:564.2px;top:834px;width:269.8px;height:120px;">
<div class="t" style="right:-4.00px;top:33.98px;font-size:14.20px;font-family:'Liberation Sans',sans-serif;font-weight:700;color:#fff;transform:scaleX(0.9358);transform-origin:right center;">CRÉATIVITÉ</div>
<div class="t" style="right:-4.00px;top:54.14px;font-size:14.60px;font-family:'Liberation Sans',sans-serif;font-weight:700;font-style:italic;color:#fff;transform:scaleX(0.9119);transform-origin:right center;">Dispo. uniquement en complément d’un</div>
<div class="t" style="right:-4.00px;top:72.14px;font-size:14.60px;font-family:'Liberation Sans',sans-serif;font-weight:700;font-style:italic;color:#fff;transform:scaleX(0.9140);transform-origin:right center;">autre cours dans la semaine</div>
<div class="t" style="right:-4.00px;top:91.08px;font-size:14.20px;font-family:'Liberation Sans',sans-serif;font-weight:700;color:#fff;transform:scaleX(0.9587);transform-origin:right center;">10 ans et +</div>
</div>
<div class="r" style="left:564.20px;top:958.70px;width:270.80px;height:24.10px;background:#9d9b9a;"></div>
<div class="t" style="left:568.80px;top:960.38px;font-size:14.20px;font-family:'Liberation Sans',sans-serif;font-weight:700;color:#fff;transform:scaleX(0.9761);transform-origin:left center;">19h à 21h</div>
<div class="r" style="left:564.20px;top:982.80px;width:268.60px;height:149.40px;background:#0097b2;"></div>
<div class="t" style="left:699.00px;top:1023.98px;font-size:14.20px;font-family:'Liberation Sans',sans-serif;font-weight:700;color:#fff;transform:translateX(-50%) scaleX(0.9325);transform-origin:center center;">TRAPÈZE 2</div>
<div class="t" style="left:699.00px;top:1040.48px;font-size:14.20px;font-family:'Liberation Sans',sans-serif;font-weight:700;font-style:italic;color:#fff;transform:translateX(-50%) scaleX(0.9107);transform-origin:center center;">dont travail dynamique</div>
<div class="t" style="left:699.00px;top:1056.98px;font-size:14.20px;font-family:'Liberation Sans',sans-serif;font-weight:700;color:#fff;transform:translateX(-50%) scaleX(0.9528);transform-origin:center center;">Adultes &amp; Ados (+14)</div>
<div class="t" style="left:699.00px;top:1072.98px;font-size:14.20px;font-family:'Liberation Sans',sans-serif;font-weight:700;color:#fff;transform:translateX(-50%) scaleX(0.9304);transform-origin:center center;">Tous niveaux</div>
<div class="c" style="left:649.70px;top:244.10px;font-size:21.10px;-webkit-text-stroke-width:0.50px;transform:translate(-50%,-50%) rotate(-22.0deg);">COMPLET</div>
<div class="c" style="left:790.50px;top:248.30px;font-size:21.10px;-webkit-text-stroke-width:0.50px;transform:translate(-50%,-50%) rotate(-22.0deg);">COMPLET</div>
<div class="c" style="left:650.80px;top:345.80px;font-size:21.10px;-webkit-text-stroke-width:0.50px;transform:translate(-50%,-50%) rotate(-22.0deg);">COMPLET</div>
<div class="c" style="left:784.00px;top:338.70px;font-size:21.10px;-webkit-text-stroke-width:0.50px;transform:translate(-50%,-50%) rotate(-22.0deg);">COMPLET</div>
<div class="c" style="left:786.30px;top:598.00px;font-size:20.30px;-webkit-text-stroke-width:0.25px;transform:translate(-50%,-50%) rotate(-22.0deg);">COMPLET</div>
<div class="c" style="left:57.20px;top:919.80px;font-size:20.30px;-webkit-text-stroke-width:0.40px;transform:translate(-50%,-50%) rotate(-22.0deg);">COMPLET</div>
<div class="c" style="left:241.10px;top:918.40px;font-size:20.30px;-webkit-text-stroke-width:0.40px;transform:translate(-50%,-50%) rotate(-22.0deg);">COMPLET</div>
<div class="c" style="left:331.90px;top:840.50px;font-size:20.30px;-webkit-text-stroke-width:0.40px;transform:translate(-50%,-50%) rotate(-22.0deg);">COMPLET</div>
<div class="c" style="left:426.50px;top:839.80px;font-size:20.30px;-webkit-text-stroke-width:0.40px;transform:translate(-50%,-50%) rotate(-22.0deg);">COMPLET</div>
<div class="c" style="left:520.80px;top:847.60px;font-size:20.30px;-webkit-text-stroke-width:0.40px;transform:translate(-50%,-50%) rotate(-22.0deg);">COMPLET</div>
<div class="t" style="left:108.00px;top:1158.32px;font-size:16.75px;font-family:'Liberation Sans',sans-serif;font-weight:700;font-style:italic;color:#111;transform:scaleX(0.9122);transform-origin:left center;">Merci de respecter les tranches d’âges et les indications de niveaux, si besoin nous demander</div>
<svg width="848" height="1200" viewBox="0 0 848 1200" style="pointer-events:none"><circle cx="806" cy="1165" r="8" fill="#fbc53a"/><circle cx="803.3" cy="1162.8" r="1" fill="#5d4110"/><circle cx="808.7" cy="1162.8" r="1" fill="#5d4110"/><path d="M802.2 1167.2 Q806 1170.8 809.8 1167.2" stroke="#5d4110" stroke-width="1" fill="none" stroke-linecap="round"/></svg>
<div class="t" style="left:818.50px;top:1158.32px;font-size:16.75px;font-family:'Liberation Sans',sans-serif;font-weight:700;font-style:italic;color:#111;transform:scaleX(0.7918);transform-origin:left center;">!</div>
</div></body></html>
